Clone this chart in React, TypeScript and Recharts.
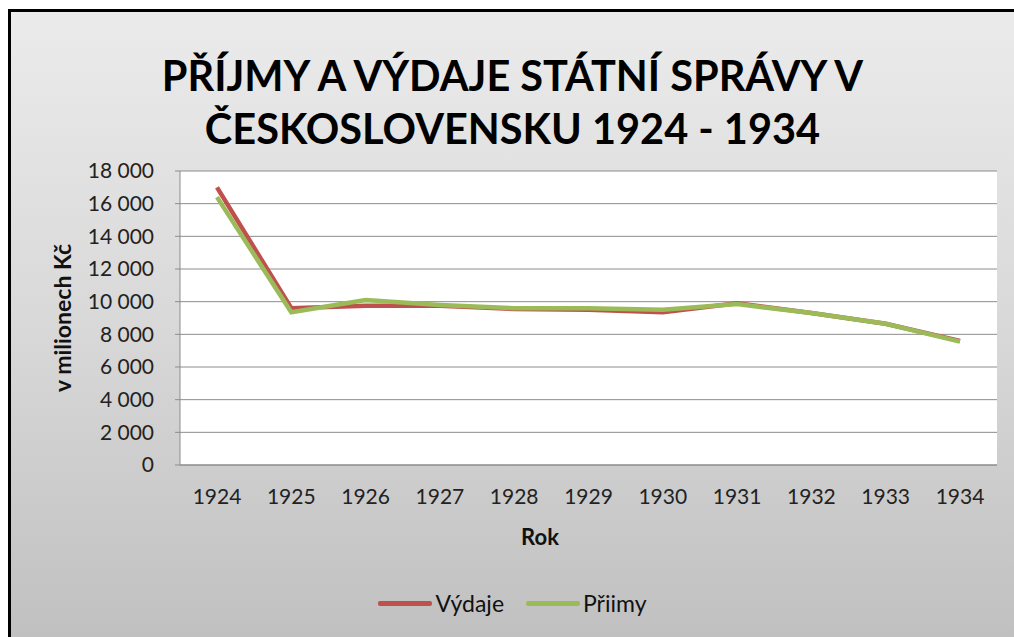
import { LineChart, Line, XAxis, YAxis, CartesianGrid, Legend } from 'recharts';

const years = ['1924', '1925', '1926', '1927', '1928', '1929', '1930', '1931', '1932', '1933', '1934'];
const vydaje = [17000, 9600, 9750, 9750, 9550, 9500, 9350, 9900, 9300, 8650, 7600];
const priimy = [16400, 9350, 10100, 9800, 9600, 9600, 9500, 9850, 9300, 8650, 7550];
const yTicks = [0, 2000, 4000, 6000, 8000, 10000, 12000, 14000, 16000, 18000];
const seriesOrder = ['Výdaje', 'Přiimy'];

const data = years.map((rok, i) => ({ rok, vydaje: vydaje[i], priimy: priimy[i] }));

const FONT = 'Lato, "Open Sans", sans-serif';
const RED = '#c0504d';
const GREEN = '#9bbb59';

const fmt = (v: number) => (v >= 1000 ? `${Math.floor(v / 1000)} ${String(v % 1000).padStart(3, '0')}` : String(v));

function YTitle({ viewBox }: any) {
  const cy = viewBox.y + viewBox.height / 2;
  return (
    <text x={51} y={cy} transform={`rotate(-90 51 ${cy})`} textAnchor="middle" dominantBaseline="central"
      fontFamily={FONT} fontWeight={700} fontSize={23} fill="#111">
      v milionech Kč
    </text>
  );
}

function XTitle() {
  return (
    <text x={529} y={524} textAnchor="middle" dominantBaseline="central"
      fontFamily={FONT} fontWeight={700} fontSize={22} fill="#111">
      Rok
    </text>
  );
}

function LegendBox({ payload }: any) {
  const items = [...(payload || [])].sort((a: any, b: any) => seriesOrder.indexOf(a.value) - seriesOrder.indexOf(b.value));
  return (
    <div style={{ display: 'flex', justifyContent: 'center', alignItems: 'center', fontFamily: FONT, fontSize: 23, color: '#111', height: 26 }}>
      {items.map((p: any, i: number) => (
        <div key={p.value} style={{ display: 'flex', alignItems: 'center', marginLeft: i ? 22 : 0 }}>
          <div style={{ width: 54, height: 5, background: p.color, borderRadius: 2, marginRight: 3 }} />
          <span>{p.value}</span>
        </div>
      ))}
    </div>
  );
}

export default function App() {
  return (
    <div style={{ position: 'fixed', left: 0, top: 0, width: 1014, height: 637, overflow: 'hidden', background: '#fff' }}>
      <div
        style={{
          position: 'absolute', left: 8, top: 9, width: 1020, height: 640,
          borderLeft: '3px solid #000', borderTop: '3px solid #000',
          background: 'linear-gradient(180deg, #ebebeb 0%, #d8d8d8 50%, #bfbfbf 100%)',
        }}
      >
        <div
          style={{
            position: 'absolute', left: 0, top: 37, width: 1003, textAlign: 'center',
            fontFamily: FONT, fontWeight: 700, fontSize: 41.5, lineHeight: '53px', color: '#000',
          }}
        >
          PŘÍJMY A VÝDAJE STÁTNÍ SPRÁVY V<br />ČESKOSLOVENSKU 1924 - 1934
        </div>
        <LineChart width={1003} height={625} data={data} margin={{ top: 159, right: 17, left: 0, bottom: 66 }}>
          <CartesianGrid vertical={false} stroke="#8c8c8c" fill="#ffffff" />
          <XAxis dataKey="rok" padding={{ left: 37, right: 37 }} tickLine={false} stroke="#8c8c8c"
            tick={{ fill: '#222', fontSize: 21, fontFamily: FONT }} tickMargin={18} height={80}
            label={<XTitle />} />
          <YAxis domain={[0, 18000]} ticks={yTicks} interval={0} tickFormatter={fmt} width={169}
            stroke="#8c8c8c" tickSize={5} tickMargin={21}
            tick={{ fill: '#222', fontSize: 21, fontFamily: FONT }} label={<YTitle />} />
          <YAxis yAxisId="r" orientation="right" width={0} tick={false} tickLine={false} stroke="#8c8c8c" />
          <Legend content={<LegendBox />} wrapperStyle={{ left: 0, width: 1003, top: 578 }} />
          <Line dataKey="vydaje" name="Výdaje" stroke={RED} strokeWidth={4.5} dot={false} isAnimationActive={false} />
          <Line dataKey="priimy" name="Přiimy" stroke={GREEN} strokeWidth={4.5} dot={false} isAnimationActive={false} />
        </LineChart>
      </div>
    </div>
  );
}
